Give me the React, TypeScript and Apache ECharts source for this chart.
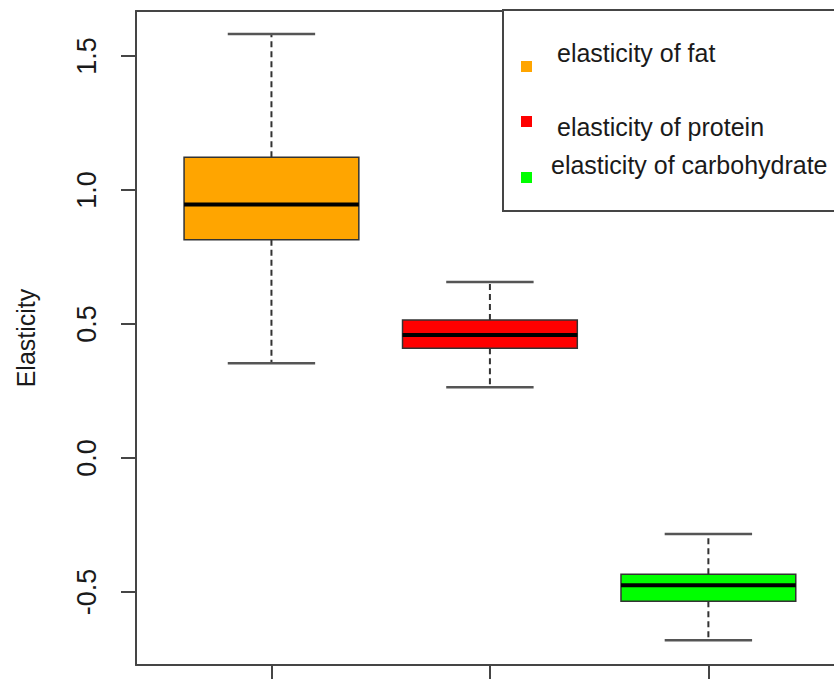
import React, { useEffect, useRef } from "react";
import * as echarts from "echarts";

const categories = ["elasticity of fat", "elasticity of protein", "elasticity of carbohydrate"];
const positions = [1, 2, 3];
const whiskerLow = [0.354, 0.264, -0.68];
const q1 = [0.815, 0.41, -0.534];
const median = [0.946, 0.459, -0.474];
const q3 = [1.122, 0.515, -0.433];
const whiskerHigh = [1.582, 0.657, -0.283];
const colors = ["#FFA500", "#FF0000", "#00FF00"];
const yTicks = [-0.5, 0, 0.5, 1, 1.5];
const xTicks = [1, 2, 3];

export default function App() {
  const ref = useRef<HTMLDivElement>(null);
  useEffect(() => {
    if (!ref.current) return;
    const chart = echarts.init(ref.current, undefined, { renderer: "svg" });
    const data = positions.map((p, i) => [p, whiskerLow[i], q1[i], median[i], q3[i], whiskerHigh[i]]);
    const frame = "#454545";
    const font = "'Liberation Sans', Arial, sans-serif";
    const boxHalf = 0.4;
    const capHalf = 0.2;
    chart.setOption({
      animation: false,
      grid: {
        left: 136,
        top: 11,
        right: 0,
        height: 654,
        show: false,
      },
      xAxis: [
        {
          type: "value",
          min: 0.38,
          max: 3.575,
          position: "bottom",
          axisLine: { show: true, onZero: false, lineStyle: { color: frame, width: 2 } },
          splitLine: { show: false },
          axisTick: { show: true, length: 20, customValues: xTicks, lineStyle: { color: frame, width: 2 } },
          axisLabel: { show: false },
        },
        {
          type: "value",
          min: 0.38,
          max: 3.575,
          position: "top",
          axisLine: { show: true, onZero: false, lineStyle: { color: frame, width: 2 } },
          splitLine: { show: false },
          axisTick: { show: false },
          axisLabel: { show: false },
        },
      ],
      yAxis: {
        type: "value",
        min: -0.772,
        max: 1.668,
        name: "Elasticity",
        nameLocation: "middle",
        nameRotate: 90,
        nameGap: 98,
        nameTextStyle: { fontSize: 25, color: "#1a1a1a", fontFamily: font },
        axisLine: { show: true, onZero: false, lineStyle: { color: frame, width: 2 } },
        splitLine: { show: false },
        axisTick: { show: true, length: 15, customValues: yTicks, lineStyle: { color: frame, width: 2 } },
        axisLabel: {
          customValues: yTicks,
          rotate: 90,
          margin: 36,
          fontSize: 27,
          color: "#1a1a1a",
          fontFamily: font,
          formatter: (v: number) => v.toFixed(1),
        },
      },
      series: [
        {
          type: "custom",
          xAxisIndex: 0,
          data,
          encode: { x: 0, y: [1, 2, 3, 4, 5] },
          renderItem: (params: any, api: any) => {
            const i = params.dataIndex;
            const x = api.value(0);
            const lo = api.coord([x, api.value(1)]);
            const b1 = api.coord([x - boxHalf, api.value(2)]);
            const md = api.coord([x, api.value(3)]);
            const b3 = api.coord([x + boxHalf, api.value(4)]);
            const hi = api.coord([x, api.value(5)]);
            const capL = api.coord([x - capHalf, 0])[0];
            const capR = api.coord([x + capHalf, 0])[0];
            const cx = lo[0];
            const dash = { stroke: "#333", lineWidth: 2, lineDash: [6, 4] };
            const cap = { stroke: "#555", lineWidth: 2.5 };
            return {
              type: "group",
              children: [
                { type: "line", shape: { x1: cx, y1: b3[1], x2: cx, y2: hi[1] }, style: dash },
                { type: "line", shape: { x1: cx, y1: b1[1], x2: cx, y2: lo[1] }, style: dash },
                { type: "line", shape: { x1: capL, y1: hi[1], x2: capR, y2: hi[1] }, style: cap },
                { type: "line", shape: { x1: capL, y1: lo[1], x2: capR, y2: lo[1] }, style: cap },
                {
                  type: "rect",
                  shape: { x: b1[0], y: b3[1], width: b3[0] - b1[0], height: b1[1] - b3[1] },
                  style: { fill: colors[i], stroke: "#333", lineWidth: 1.5 },
                },
                {
                  type: "line",
                  shape: { x1: b1[0], y1: md[1], x2: b3[0], y2: md[1] },
                  style: { stroke: "#000", lineWidth: 4 },
                },
              ],
            };
          },
        },
      ],
      graphic: [
        {
          type: "rect",
          shape: { x: 503, y: 10, width: 345, height: 201 },
          style: { fill: "#fff", stroke: frame, lineWidth: 2 },
          z: 10,
        },
        { type: "rect", shape: { x: 521, y: 61, width: 11, height: 11 }, style: { fill: colors[0] }, z: 11 },
        { type: "rect", shape: { x: 521, y: 116, width: 11, height: 11 }, style: { fill: colors[1] }, z: 11 },
        { type: "rect", shape: { x: 521, y: 172, width: 11, height: 11 }, style: { fill: colors[2] }, z: 11 },
        {
          type: "text", x: 557, y: 53, z: 11,
          style: { text: categories[0], fontSize: 25, fontFamily: font, fill: "#1a1a1a", verticalAlign: "middle" },
        },
        {
          type: "text", x: 557, y: 127, z: 11,
          style: { text: categories[1], fontSize: 25, fontFamily: font, fill: "#1a1a1a", verticalAlign: "middle" },
        },
        {
          type: "text", x: 551, y: 165, z: 11,
          style: { text: categories[2], fontSize: 25, fontFamily: font, fill: "#1a1a1a", verticalAlign: "middle" },
        },
      ],
    });
    return () => chart.dispose();
  }, []);
  return (
    <div
      ref={ref}
      style={{ position: "fixed", left: 0, top: 0, width: 834, height: 679, background: "#fff" }}
    />
  );
}
